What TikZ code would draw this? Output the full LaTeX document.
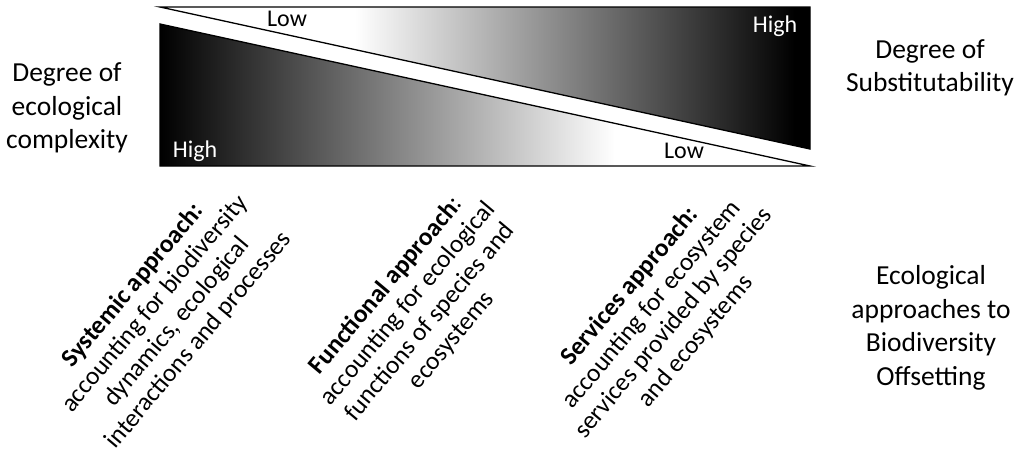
\documentclass[tikz,border=0pt]{standalone}
\usepackage{fontspec}
\setmainfont{Carlito}
\begin{document}
\begin{tikzpicture}[x=1pt,y=-1pt]
\tikzset{
  sidelabel/.style={align=center, font=\fontsize{27.5}{33.5}\selectfont, inner sep=0pt},
  cornerlabel/.style={anchor=base, font=\fontsize{24}{28}\selectfont, inner sep=0pt},
  approach/.style={rotate=50, align=center, font=\fontsize{25.5}{28.5}\selectfont, inner sep=0pt},
  edge/.style={draw=black, line width=1.3pt, line join=miter}
}
\useasboundingbox (0,0) rectangle (1024,455);
\fill[white] (0,0) rectangle (1024,455);
% upper triangle
\coordinate (ua) at (160,7);
\coordinate (ub) at (810,7);
\coordinate (uc) at (810,149);
\begin{scope}
  \clip (ua) -- (ub) -- (uc) -- cycle;
  \fill[white] (150,0) rectangle (360,160);
  \shade[left color=white, right color=black] (355,0) rectangle (795,160);
  \fill[black] (794,0) rectangle (820,160);
\end{scope}
\draw[edge] (ua) -- (ub) -- (uc) -- cycle;
% lower triangle
\coordinate (la) at (160,24);
\coordinate (lb) at (160,166);
\coordinate (lc) at (810,166);
\begin{scope}
  \clip (la) -- (lb) -- (lc) -- cycle;
  \shade[left color=black, right color=white] (160,0) rectangle (615,170);
  \fill[white] (614,0) rectangle (820,170);
\end{scope}
\draw[edge] (la) -- (lb) -- (lc) -- cycle;
% corner labels
\node[cornerlabel, text=black] (lowup) at (287,26) {Low};
\node[cornerlabel, text=white] (highup) at (775,32) {High};
\node[cornerlabel, text=white] (highlow) at (195,157) {High};
\node[cornerlabel, text=black] (lowlow) at (684,158) {Low};
% side labels
\node[sidelabel] (complexity) at (67,108) {Degree of\\ecological\\complexity};
\node[sidelabel] (subst) at (930,68) {Degree of\\Substitutability};
\node[sidelabel] (eco) at (931,328) {Ecological\\approaches to\\Biodiversity\\Offsetting};
% approaches
\node[approach] (sys) at (166,313) {\textbf{Systemic approach:}\\accounting for biodiversity\\dynamics, ecological\\interactions and processes};
\node[approach] (fun) at (419,313) {\textbf{Functional approach}:\\accounting for ecological\\functions of species and\\ecosystems};
\node[approach] (ser) at (663,314) {\textbf{Services approach:}\\accounting for ecosystem\\services provided by species\\and ecosystems};
\end{tikzpicture}
\end{document}
